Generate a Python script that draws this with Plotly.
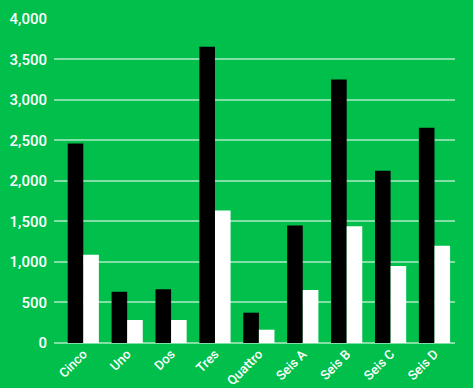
import plotly.graph_objects as go

categories = ["Cinco", "Uno", "Dos", "Tres", "Quattro", "Seis A", "Seis B", "Seis C", "Seis D"]
series_black = [2460, 633, 663, 3655, 374, 1450, 3250, 2125, 2655]
series_white = [1090, 284, 284, 1635, 164, 654, 1440, 950, 1200]
y_ticks = [0, 500, 1000, 1500, 2000, 2500, 3000, 3500, 4000]
y_tick_labels = ["0", "500", "1,000", "1,500", "2,000", "2,500", "3,000", "3,500", "4,000"]

bg = "#00C04B"
grid = "rgba(255,255,255,0.5)"

fig = go.Figure()
fig.add_trace(go.Bar(x=categories, y=series_black, marker=dict(color="black", line=dict(width=0)), name="A"))
fig.add_trace(go.Bar(x=categories, y=series_white, marker=dict(color="white", line=dict(width=0)), name="B"))

fig.update_layout(
    width=473, height=388,
    paper_bgcolor=bg, plot_bgcolor=bg,
    margin=dict(l=54, r=18, t=18, b=45, autoexpand=False),
    barmode="group", bargap=0.29, bargroupgap=0,
    showlegend=False,
    font=dict(family="Roboto", color="white", size=14),
    xaxis=dict(range=[-0.667, 8.467], tickangle=-45, showgrid=False, showline=False,
               ticks="", tickfont=dict(size=13, color="white", weight=500), automargin=False),
    yaxis=dict(range=[0, 4010], tickvals=y_ticks, ticktext=y_tick_labels,
               showgrid=True, gridcolor=grid, gridwidth=1.5,
               zeroline=True, zerolinecolor=grid, zerolinewidth=1.5,
               showline=False, ticks="", ticklabelstandoff=6,
               tickfont=dict(size=15, color="white", weight=500), automargin=False),
)

fig.write_html(
    "out.html",
    config={"displayModeBar": False},
    post_script="document.body.style.margin='0';document.body.style.background='#00C04B';",
)
